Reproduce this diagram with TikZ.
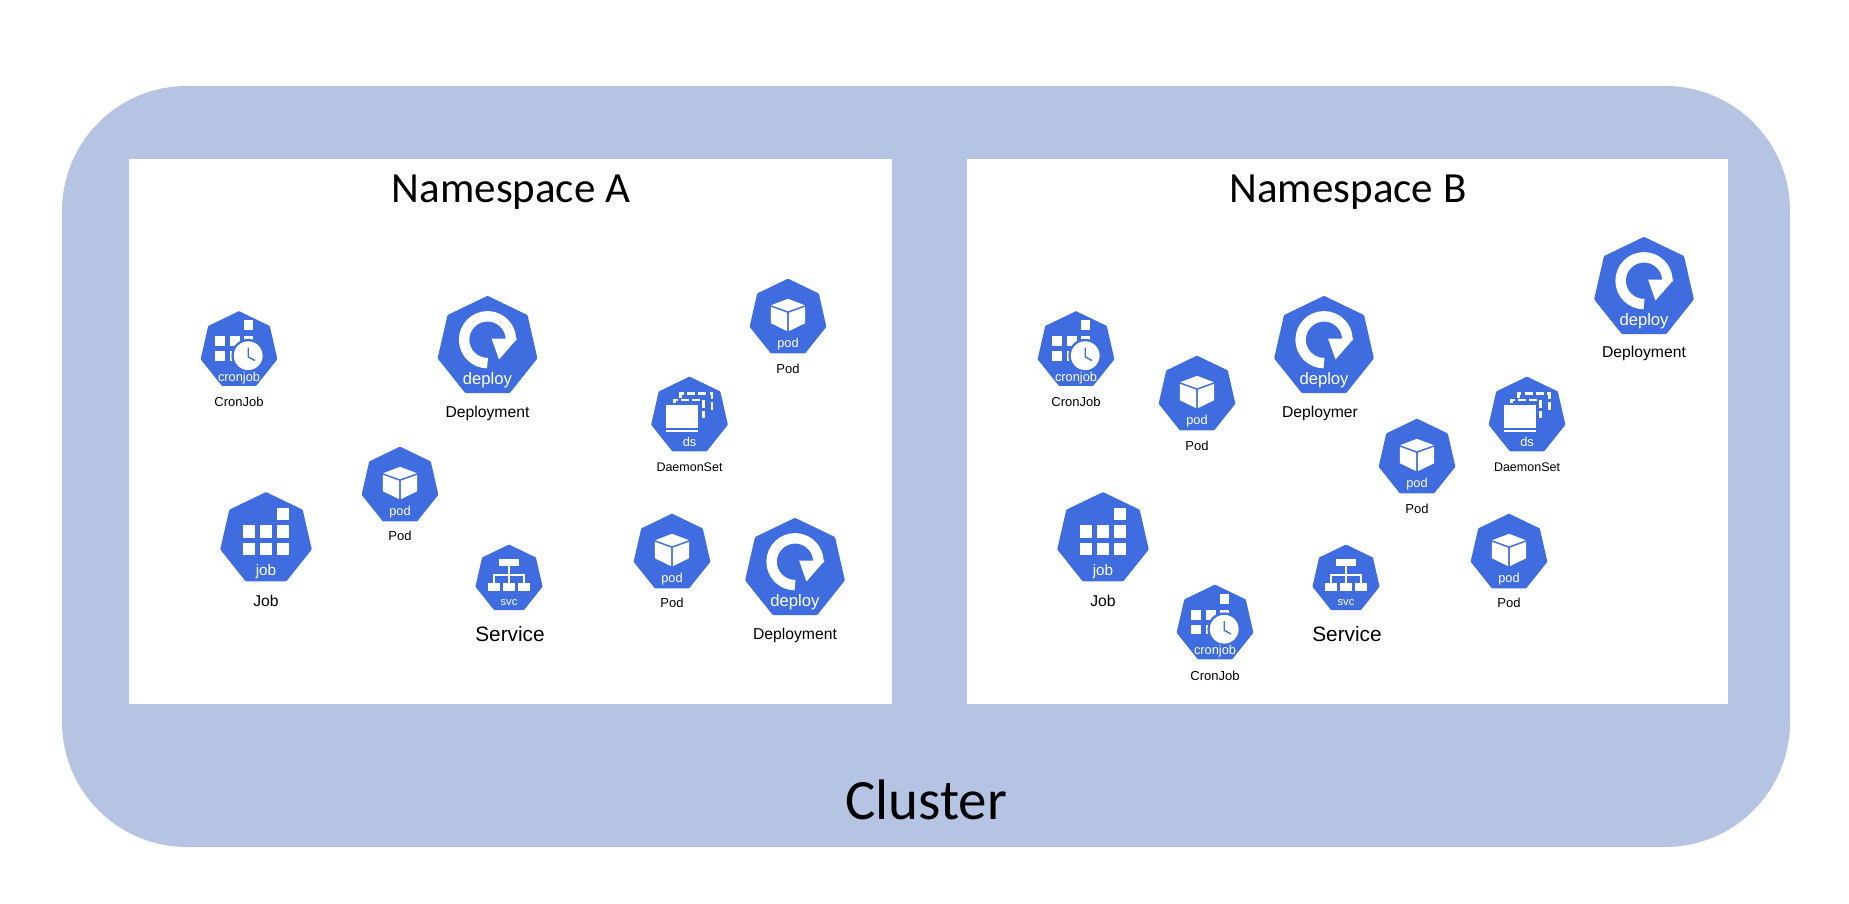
\documentclass[tikz,border=0pt]{standalone}
\usepackage{fontspec}
\setmainfont{Liberation Sans}
\newfontfamily\titlefont{Carlito}
\definecolor{clusterblue}{HTML}{B5C4E3}
\definecolor{k8sblue}{HTML}{3F6DE0}
\newcommand{\txtsize}[1]{\fontsize{#1}{#1}\selectfont}
\tikzset{
  x=1pt,y=1pt,
  titletext/.style={font=\titlefont\txtsize{43}\selectfont,text=black,inner sep=0pt},
  clustertext/.style={font=\titlefont\txtsize{57}\selectfont,text=black,inner sep=0pt},
  smalllabel/.style={font=\txtsize{13}\selectfont,text=black,inner sep=0pt,yshift=-1pt},
  dslabel/.style={font=\txtsize{12.5}\selectfont,text=black,inner sep=0pt},
  midlabel/.style={font=\txtsize{15.7}\selectfont,text=black,inner sep=0pt,yshift=-1pt},
  biglabel/.style={font=\txtsize{20.8}\selectfont,text=black,inner sep=0pt,yshift=-1pt},
  icontext/.style={font=\txtsize{32}\selectfont,text=white,inner sep=0pt,anchor=center,transform shape},
  hept/.pic={
    \fill[k8sblue,draw=k8sblue,line width=\ks*8pt,line join=round]
      (90:94)--(141.43:94)--(192.86:94)--(244.29:94)--(295.71:94)--(347.14:94)--(38.57:94)--cycle;
  },
  podicon/.pic={
    \pic{hept};
    \fill[white] (0,48)--(-42,32)--(0,17)--(42,32)--cycle;
    \fill[white] (-43,28)--(-2,13)--(-2,-33)--(-43,-13)--cycle;
    \fill[white] (43,28)--(2,13)--(2,-33)--(43,-13)--cycle;
    \node[icontext] at (0,-65) {pod};
  },
  deployicon/.pic={
    \pic{hept};
    \draw[white,line width=\ks*20pt] (0,-31) arc[start angle=270,end angle=-2,radius=45];
    \fill[white] (57,16)--(8,16)--(22,-24)--cycle;
    \node[icontext] at (0,-64) {deploy};
  },
  svcicon/.pic={
    \pic{hept};
    \fill[white] (-28,58) rectangle (28,36);
    \fill[white] (-60,-11) rectangle (-25,-35);
    \fill[white] (-17,-11) rectangle (17,-35);
    \fill[white] (25,-11) rectangle (60,-35);
    \draw[white,line width=\ks*5pt] (0,36)--(0,12) (-43,-11)--(-43,12)--(43,12)--(43,-11) (0,12)--(0,-11);
    \node[icontext] at (0,-66) {svc};
  },
  jobicon/.pic={
    \pic{hept};
    \foreach \cx/\cy in {-36/-21,0/-21,36/-21,-36/16,0/16,36/16,36/52}{
      \fill[white] ({\cx-13},{\cy-13}) rectangle ({\cx+13},{\cy+13});
    }
    \node[icontext] at (0,-68) {job};
  },
  dsicon/.pic={
    \pic{hept};
    \pgfmathsetmacro\dA{20*\ks}
    \pgfmathsetmacro\dB{8*\ks}
    \draw[white,line width=\ks*7pt,dash pattern=on \dA pt off \dB pt] (-22,44)--(-22,56)--(56,56)--(56,11);
    \draw[white,line width=\ks*7pt,dash pattern=on \dA pt off \dB pt] (-38,28)--(-38,40)--(34,40)--(34,-6);
    \fill[k8sblue] (-62,32) rectangle (26,-34);
    \fill[white] (-58,28) rectangle (22,-30);
    \fill[white] (-58,-35) rectangle (22,-39);
    \node[icontext] at (0,-65) {ds};
  },
  cronicon/.pic={
    \pic{hept};
    \fill[white] (-60,36) rectangle (-35,10);
    \fill[white] (-23,36) rectangle (3,10);
    \fill[white] (-60,-2) rectangle (-35,-26);
    \fill[white] (-23,-2) rectangle (3,-26);
    \fill[white] (12,75) rectangle (36,50);
    \fill[white] (12,36) rectangle (36,10);
    \fill[k8sblue] (23,-13) circle[radius=42];
    \fill[white] (23,-13) circle[radius=36];
    \draw[k8sblue,line width=\ks*3.5pt,line join=round] (23,7)--(23,-16)--(40,-25);
    \node[icontext] at (0,-68) {cronjob};
  },
}
\newcommand{\kicon}[4]{{\def\ks{#4}\pic[scale=#4,transform shape] at (#1,{903-#2}) {#3};}}
\newcommand{\klabel}[5]{\node[#1] (#2) at (#3,{903-#4}) {#5};}
\begin{document}
\begin{tikzpicture}
\useasboundingbox (0,0) rectangle (1849,903);
\fill[white] (0,0) rectangle (1849,903);
\fill[clusterblue,rounded corners=125pt] (62,56) rectangle (1790,817);
\fill[white] (129,199) rectangle (892,744);
\fill[white] (967,199) rectangle (1728,744);
\klabel{titletext}{nsa}{511}{192}{Namespace A}
\klabel{titletext}{nsb}{1348}{192}{Namespace B}
\klabel{clustertext}{cluster}{926}{800}{Cluster}

% Namespace A
\kicon{239}{350.5}{cronicon}{.40}
\klabel{smalllabel}{a1}{239}{401}{CronJob}
\kicon{487.5}{347}{deployicon}{.52}
\klabel{midlabel}{a2}{487.5}{412}{Deployment}
\kicon{788}{318}{podicon}{.40}
\klabel{smalllabel}{a3}{788}{367.5}{Pod}
\kicon{689.5}{416}{dsicon}{.40}
\klabel{dslabel}{a4}{689.5}{467}{DaemonSet}
\kicon{400}{486}{podicon}{.40}
\klabel{smalllabel}{a5}{400}{535}{Pod}
\kicon{266}{539}{jobicon}{.477}
\klabel{midlabel}{a6}{266}{600}{Job}
\kicon{509}{579}{svcicon}{.35}
\klabel{biglabel}{a7}{510}{633}{Service}
\kicon{672}{553}{podicon}{.40}
\klabel{smalllabel}{a8}{672}{602}{Pod}
\kicon{795}{569}{deployicon}{.52}
\klabel{midlabel}{a9}{795}{634}{Deployment}

% Namespace B
\kicon{1076}{350.5}{cronicon}{.40}
\klabel{smalllabel}{b1}{1076}{401}{CronJob}
\kicon{1324}{347}{deployicon}{.52}
\klabel{midlabel}{b2}{1320}{412}{Deploymer}
\kicon{1644}{288}{deployicon}{.52}
\klabel{midlabel}{b3}{1644}{352.5}{Deployment}
\kicon{1197}{395}{podicon}{.40}
\klabel{smalllabel}{b4}{1197}{445}{Pod}
\kicon{1417}{458}{podicon}{.40}
\klabel{smalllabel}{b5}{1417}{508}{Pod}
\kicon{1527}{416}{dsicon}{.40}
\klabel{dslabel}{b6}{1527}{467}{DaemonSet}
\kicon{1103}{539}{jobicon}{.477}
\klabel{midlabel}{b7}{1103}{600}{Job}
\kicon{1346}{579}{svcicon}{.35}
\klabel{biglabel}{b8}{1347}{633}{Service}
\kicon{1509}{553}{podicon}{.40}
\klabel{smalllabel}{b9}{1509}{602}{Pod}
\kicon{1215}{624}{cronicon}{.40}
\klabel{smalllabel}{b10}{1215}{675}{CronJob}
\end{tikzpicture}
\end{document}
